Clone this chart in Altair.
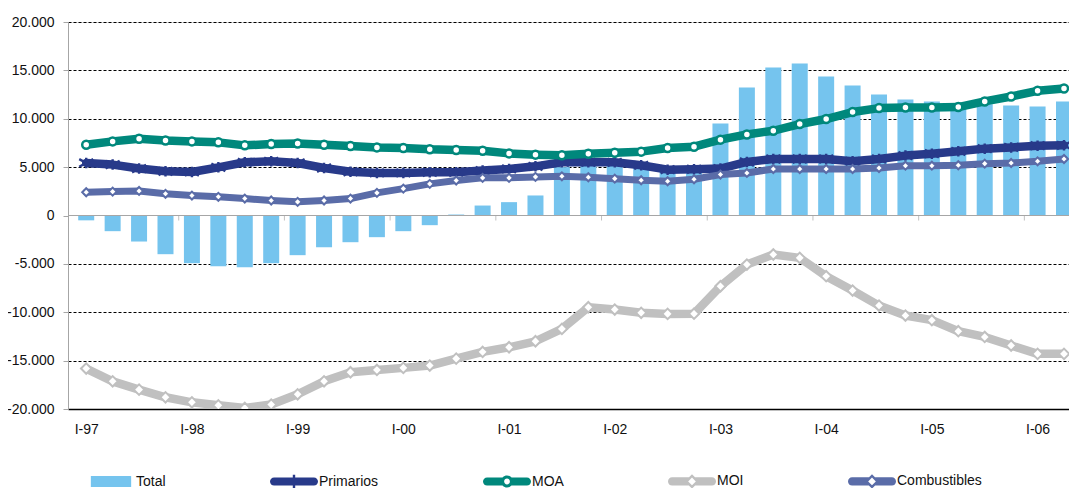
import altair as alt
import pandas as pd

quarters = []
for yy in ["97", "98", "99", "00", "01", "02", "03", "04", "05", "06"]:
    for q in ["I", "II", "III", "IV"]:
        quarters.append(f"{q}-{yy}")
quarters = quarters[:38]

total = [-500, -1620, -2690, -4000, -4930, -5240, -5340, -4930, -4100, -3270,
         -2760, -2240, -1620, -1000, 100, 1030, 1380, 2070, 5000, 5200,
         5200, 4900, 4500, 4800, 9510, 13240, 15300, 15720, 14370, 13440,
         12510, 12000, 11790, 11100, 11500, 11380, 11270, 11790]
primarios = [5430, 5260, 4850, 4570, 4500, 4980, 5500, 5600, 5430, 4910,
             4520, 4400, 4400, 4470, 4470, 4640, 4810, 5080, 5500, 5500,
             5500, 5190, 4740, 4780, 4850, 5530, 5840, 5840, 5840, 5600,
             5840, 6190, 6390, 6630, 6910, 7040, 7220, 7250]
moa = [7320, 7660, 7940, 7760, 7660, 7560, 7250, 7390, 7450, 7320,
       7180, 7040, 6980, 6840, 6770, 6700, 6420, 6290, 6220, 6390,
       6490, 6600, 6980, 7110, 7840, 8380, 8760, 9450, 9970, 10690,
       11100, 11170, 11170, 11210, 11790, 12300, 12890, 13130]
moi = [-15820, -17140, -18000, -18790, -19310, -19620, -19890, -19540, -18480, -17140,
       -16200, -15960, -15750, -15510, -14790, -14100, -13620, -13000, -11720, -9480,
       -9720, -10060, -10170, -10150, -7310, -5070, -4030, -4380, -6270, -7760,
       -9310, -10340, -10820, -11960, -12550, -13440, -14300, -14300]
combustibles = [2400, 2470, 2540, 2240, 2060, 1930, 1750, 1550, 1410, 1550,
                1750, 2340, 2780, 3270, 3610, 3890, 3890, 3990, 4050, 3950,
                3810, 3640, 3540, 3740, 4230, 4400, 4810, 4810, 4810, 4810,
                4910, 5150, 5150, 5190, 5360, 5430, 5600, 5840]

series_names = ["Total", "Primarios", "MOA", "MOI", "Combustibles"]
series_values = [total, primarios, moa, moi, combustibles]
series_colors = ["#75C4EE", "#283A8A", "#00887C", "#C0C0C0", "#5A6CA8"]
y_ticks = [-20000, -15000, -10000, -5000, 0, 5000, 10000, 15000, 20000]

rows = []
for name, vals in zip(series_names, series_values):
    for i, (q, v) in enumerate(zip(quarters, vals)):
        rows.append({"idx": i, "quarter": q, "series": name, "value": v})
df = pd.DataFrame(rows)

FONT = "Liberation Sans"
xscale = alt.Scale(domain=[-0.5, 37.0], nice=False, zero=False)
yscale = alt.Scale(domain=[-20000, 20000], nice=False)

label_array = "[" + ",".join(f"'{q}'" for q in quarters) + "]"
x_axis = alt.Axis(values=list(range(0, 38, 4)), labelExpr=f"{label_array}[datum.value]",
                  title=None, grid=False, ticks=False, domainColor="#000000",
                  domainWidth=1.5, labelFontSize=14, labelPadding=13, labelColor="#111111",
                  labelFont=FONT, labelFlush=False, labelOverlap=False)
y_axis = alt.Axis(values=y_ticks,
                  labelExpr="(datum.value < 0 ? '-' : '') + replace(format(abs(datum.value), ','), ',', '.')",
                  title=None, grid=True, gridDash=[3, 2], gridWidth=1,
                  gridColor={"condition": {"test": "datum.value === 0 || datum.value === -20000",
                                           "value": "transparent"}, "value": "#000000"},
                  tickColor="#A6A6A6", tickSize=5, domainColor="#A6A6A6", domainWidth=1,
                  labelFontSize=14, labelPadding=9, labelColor="#111111", labelFont=FONT)

line_path = "M-0.83,-0.17L0.83,-0.17A0.17,0.17 0 0 1 0.83,0.17L-0.83,0.17A0.17,0.17 0 0 1 -0.83,-0.17Z"
rect_path = "M-0.84,-0.23L0.84,-0.23L0.84,0.23L-0.84,0.23Z"
circ_hole = "M0.12,0A0.12,0.12 0 1 0 -0.12,0A0.12,0.12 0 1 0 0.12,0Z"
circ_outer = "M0.25,0A0.25,0.25 0 1 1 -0.25,0A0.25,0.25 0 1 1 0.25,0Z"
dia_outer = "M0,-0.3L0.3,0L0,0.3L-0.3,0Z"
dia_hole = "M0,-0.16L-0.16,0L0,0.16L0.16,0Z"
star_cross = "M-0.05,-0.28L0.05,-0.28L0.05,0.28L-0.05,0.28Z"
legend_shapes = [
    rect_path,
    line_path + star_cross,
    line_path + circ_outer + circ_hole + circ_hole,
    line_path + dia_outer + dia_hole + dia_hole,
    line_path + dia_outer + dia_hole + dia_hole,
]

legend = alt.Legend(orient="none", legendX=19, legendY=435, direction="horizontal",
                    title=None, labelFontSize=14, labelFont=FONT, labelColor="#111111",
                    symbolSize=2304, columnPadding=104, labelOffset=1, padding=0,
                    symbolStrokeWidth=0, symbolOpacity=1)

base = alt.Chart(df)

bars = base.transform_filter("datum.series === 'Total'").mark_bar(
    size=16, clip=True, color=series_colors[0]).encode(
    x=alt.X("idx:Q", scale=xscale, axis=x_axis),
    y=alt.Y("value:Q", scale=yscale, axis=y_axis),
)

# invisible (clipped) points that carry the legend
legend_layer = base.transform_filter("datum.idx === 0").transform_calculate(
    off="datum.idx - 30").mark_point(filled=True, opacity=1, clip=True).encode(
    x=alt.X("off:Q", scale=xscale),
    y=alt.Y("value:Q", scale=yscale),
    color=alt.Color("series:N", scale=alt.Scale(domain=series_names, range=series_colors),
                    legend=legend, sort=series_names),
    shape=alt.Shape("series:N", scale=alt.Scale(domain=series_names, range=legend_shapes),
                    legend=legend, sort=series_names),
)

zero_rule = alt.Chart(pd.DataFrame({"v": [0]})).mark_rule(color="#A6A6A6", strokeWidth=1).encode(
    y=alt.Y("v:Q", scale=yscale))

year_ticks = base.transform_filter(
    "datum.series === 'Total' && datum.idx % 4 === 0 && datum.idx > 0"
).transform_calculate(b="datum.idx - 0.5", v0="0").mark_tick(
    orient="vertical", size=5, yOffset=2.5, color="#A6A6A6", thickness=1
).encode(x=alt.X("b:Q", scale=xscale), y=alt.Y("v0:Q", scale=yscale))

asterisk = "M0,-0.75L0,0.75M-1,-0.55L1,0.55M-1,0.55L1,-0.55"
styles = {
    "Primarios": dict(width=8.5, shape=asterisk, size=196, fill=None, sw=2.4),
    "MOA": dict(width=8.5, shape="circle", size=64, fill="white", sw=2.5),
    "MOI": dict(width=8.5, shape="diamond", size=110, fill="white", sw=2),
    "Combustibles": dict(width=7, shape="diamond", size=64, fill="white", sw=2),
}

layers = [bars, zero_rule, year_ticks]
for name, color in zip(series_names[1:], series_colors[1:]):
    st = styles[name]
    sub = base.transform_filter(f"datum.series === '{name}'")
    ln = sub.mark_line(color=color, strokeWidth=st["width"], strokeJoin="round",
                       strokeCap="round", clip=True).encode(
        x=alt.X("idx:Q", scale=xscale), y=alt.Y("value:Q", scale=yscale))
    if st["fill"] is None:
        pt = sub.mark_point(shape=st["shape"], size=st["size"], filled=False, stroke=color,
                            strokeWidth=st["sw"], opacity=1, clip=True)
    else:
        pt = sub.mark_point(shape=st["shape"], size=st["size"], filled=True, fill=st["fill"],
                            stroke=color, strokeWidth=st["sw"], opacity=1, clip=True)
    pt = pt.encode(x=alt.X("idx:Q", scale=xscale), y=alt.Y("value:Q", scale=yscale))
    layers += [ln, pt]
layers.append(legend_layer)

chart = alt.layer(*layers).properties(
    width=1001, height=387,
    autosize=alt.AutoSizeParams(type="none"),
    padding={"left": 60, "top": 14, "right": 0, "bottom": 79},
).configure_view(stroke=None).configure(font=FONT)

chart.save("out.html", embed_options={"renderer": "svg", "actions": False})
